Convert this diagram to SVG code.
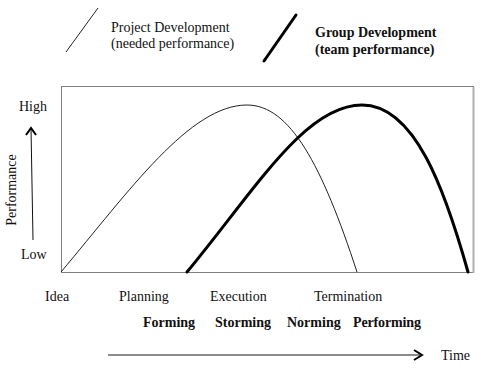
<svg xmlns="http://www.w3.org/2000/svg" width="491" height="381" viewBox="0 0 491 381">
<style>
text{font-family:"Liberation Serif","Times New Roman",serif;font-size:14px;fill:#111}
.b{font-weight:bold}
.thin{fill:none;stroke:#222;stroke-width:1}
.thick{fill:none;stroke:#000;stroke-width:3;stroke-linecap:round}
.head{fill:none;stroke:#000;stroke-width:2}
</style>
<rect width="491" height="381" fill="#fff"/>
<g id="legend">
<line class="thin" x1="98" y1="8" x2="66" y2="52"/>
<text x="111" y="32">Project Development</text>
<text x="111" y="48">(needed performance)</text>
<line class="thick" x1="296" y1="15" x2="264" y2="61"/>
<text class="b" x="315" y="37">Group Development</text>
<text class="b" x="315" y="54">(team performance)</text>
</g>
<g id="chart">
<rect x="61.5" y="86.5" width="412" height="186" fill="none" stroke="#808080" stroke-width="1"/>
<line x1="473.5" y1="87" x2="473.5" y2="273" stroke="#b0b0b0" stroke-width="2"/>
</g>
<g id="connectors">
<path id="project-curve" class="thin" d="M61,272 C130,190 190,105 247,105 C290,105 322,165 357,272"/>
<path id="group-curve" class="thick" d="M187,272 C255,190 305,105 362,105 C415,105 445,190 468,272"/>
<line x1="33" y1="240" x2="31" y2="128" stroke="#111" stroke-width="1"/>
<polyline class="head" points="26,135 31,128 36,135"/>
<line x1="108" y1="355" x2="420" y2="355" stroke="#666" stroke-width="1.3"/>
<polyline class="head" points="414,350 422,355 414,360"/>
</g>
<g id="axis-labels">
<text x="19" y="111">High</text>
<text x="21" y="259">Low</text>
<text transform="translate(16,190) rotate(-90)" text-anchor="middle">Performance</text>
<text x="441" y="360">Time</text>
</g>
<g id="phases">
<text x="45" y="301">Idea</text>
<text x="119" y="301">Planning</text>
<text x="210" y="301">Execution</text>
<text x="314" y="301">Termination</text>
</g>
<g id="stages">
<text class="b" x="143" y="327">Forming</text>
<text class="b" x="215" y="327">Storming</text>
<text class="b" x="287" y="327">Norming</text>
<text class="b" x="353" y="327" textLength="68">Performing</text>
</g>
</svg>
